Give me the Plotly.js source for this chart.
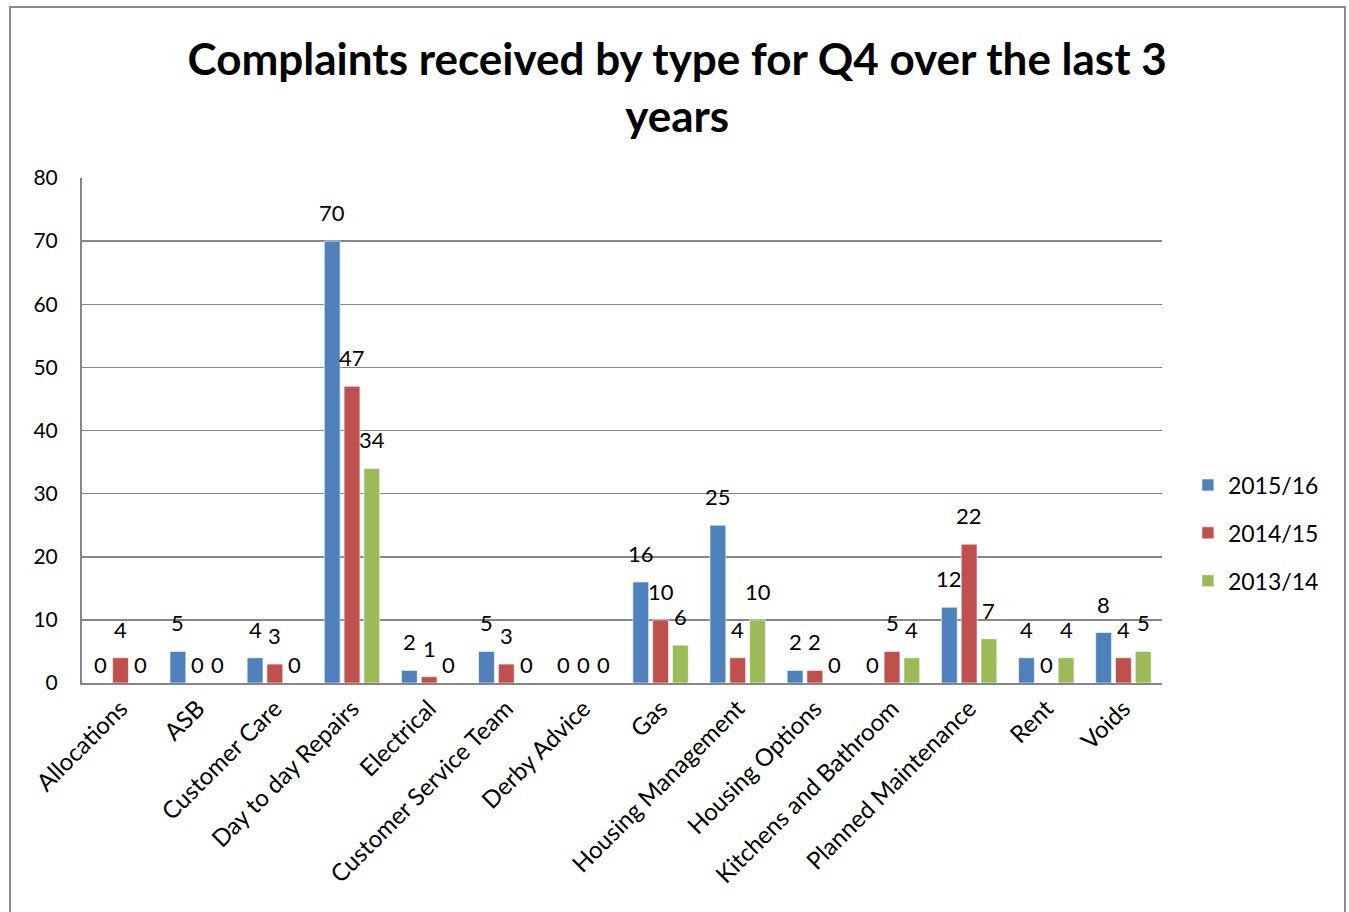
<!DOCTYPE html>
<html>
<head>
<meta charset="utf-8">
<script src="https://cdn.plot.ly/plotly-3.0.1.min.js"></script>
<style>
html,body{margin:0;padding:0;background:#fff;}
#chart{width:1349px;height:912px;}
</style>
</head>
<body>
<div id="chart"></div>
<script>
const categories = ["Allocations","ASB","Customer Care","Day to day Repairs","Electrical","Customer Service Team","Derby Advice","Gas","Housing Management","Housing Options","Kitchens and Bathroom","Planned Maintenance","Rent","Voids"];
const seriesNames = ["2015/16","2014/15","2013/14"];
const values2015 = [0,5,4,70,2,5,0,16,25,2,0,12,4,8];
const values2014 = [4,0,3,47,1,3,0,10,4,2,5,22,0,4];
const values2013 = [0,0,0,34,0,0,0,6,10,0,4,7,4,5];
const yTicks = [0,10,20,30,40,50,60,70,80];

const colors = ["#4F81BD","#C0504D","#9BBB59"];
const allValues = [values2015, values2014, values2013];
const FONT = "Lato, 'Open Sans', sans-serif";

const traces = allValues.map((vals, i) => ({
  type: "bar",
  name: seriesNames[i],
  x: categories,
  y: vals,
  marker: {color: colors[i], line: {color: "rgba(255,255,255,0.6)", width: 1}},
  legendgroup: "g" + i,
  hoverinfo: "skip"
}));

// data labels placed through the axes (category + value), shifted to each bar's slot
const slotShift = [-19.8, 0, 19.8];
const annotations = [];
allValues.forEach((vals, i) => {
  vals.forEach((v, j) => {
    annotations.push({
      x: categories[j], y: v, xref: "x", yref: "y",
      text: String(v), showarrow: false,
      xshift: slotShift[i], yshift: v === 0 ? 3 : 13,
      yanchor: "bottom", xanchor: "center",
      font: {family: FONT, size: 22, color: "#000"}
    });
  });
});

const layout = {
  width: 1349, height: 912,
  margin: {l: 82, r: 187, t: 178, b: 229},
  paper_bgcolor: "#fff", plot_bgcolor: "#fff",
  font: {family: FONT, color: "#000"},
  title: {
    text: "<b>Complaints received by type for Q4 over the last 3<br>years</b>",
    font: {family: FONT, size: 44, color: "#000"},
    x: 0.502, xref: "container", xanchor: "center",
    y: 0.918, yref: "container", yanchor: "top"
  },
  barmode: "group",
  bargap: 0.23,
  bargroupgap: 0.2,
  showlegend: true,
  legend: {
    x: 1.024, y: 0.297, xanchor: "left", yanchor: "middle",
    font: {family: FONT, size: 23, color: "#000"},
    tracegroupgap: 15,
    bgcolor: "rgba(0,0,0,0)"
  },
  annotations: annotations,
  xaxis: {
    type: "category",
    tickangle: -45,
    tickfont: {family: FONT, size: 24, color: "#000"},
    showline: true, linecolor: "#868686", linewidth: 2,
    ticks: "", showgrid: false, fixedrange: true
  },
  yaxis: {
    range: [0, 80],
    tickvals: yTicks,
    tickfont: {family: FONT, size: 21, color: "#000"},
    showline: true, linecolor: "#868686", linewidth: 2,
    gridcolor: "#868686", gridwidth: 1.5,
    ticks: "", ticklabelstandoff: 18, zeroline: false, fixedrange: true
  },
  shapes: [{
    type: "rect", xref: "paper", yref: "paper",
    x0: (10-82)/1080, x1: (1345-82)/1080,
    y0: (683-930)/505, y1: (683-7)/505,
    line: {color: "#8a8a8a", width: 2}, fillcolor: "rgba(0,0,0,0)", layer: "below"
  }]
};

Plotly.newPlot("chart", traces, layout, {displayModeBar: false, staticPlot: true});
</script>
</body>
</html>
